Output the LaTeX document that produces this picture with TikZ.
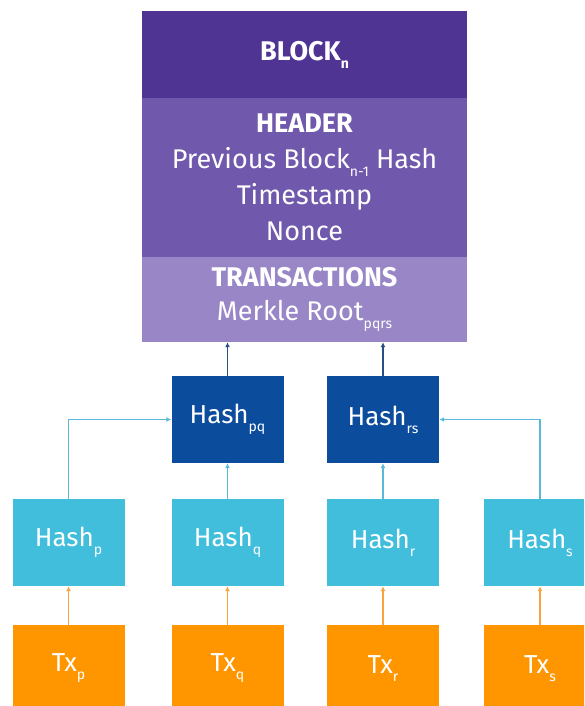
\documentclass[tikz,border=0pt]{standalone}
\usepackage{fontspec}
\setmainfont{Fira Sans}
\usetikzlibrary{arrows.meta}
\definecolor{blockcolor}{RGB}{80,52,148}
\definecolor{headercolor}{RGB}{112,88,172}
\definecolor{transcolor}{RGB}{152,134,198}
\definecolor{hashdark}{RGB}{12,76,156}
\definecolor{hashlight}{RGB}{64,190,220}
\definecolor{txcolor}{RGB}{255,150,0}
\definecolor{flechecyan}{RGB}{90,185,215}
\definecolor{flecheorange}{RGB}{245,165,60}
\definecolor{flechebleu}{RGB}{40,80,130}
\newcommand{\idx}[1]{\raisebox{-8pt}{\fontsize{14}{14}\selectfont #1}}

\begin{document}
\begin{tikzpicture}[x=1pt, y=-1pt]
		% STYLES
		\tikzstyle{boite} = [inner sep=0pt, text=white, align=center, font=\fontsize{26}{36}\selectfont]
		\tikzstyle{bloc} = [boite, minimum width=325pt, font=\fontsize{27}{36}\selectfont]
		\tikzstyle{noeud} = [boite, minimum width=112pt, minimum height=87pt]
		\tikzstyle{fleche} = [line width=1.3pt, -{Latex[length=5pt, width=5pt]}]

		\useasboundingbox (0, 0) rectangle (584, 706);
		\clip (0, 0) rectangle (584, 706);

		% BLOCK
		\node[bloc, fill=blockcolor, minimum height=87pt] (block) at (304.5, 54.5)
			{\textbf{BLOCK\idx{n}}};
		\node[bloc, fill=headercolor, minimum height=159pt] (header) at (304.5, 177.5)
			{\textbf{HEADER}\\Previous Block\idx{n-1} Hash\\Timestamp\\Nonce};
		\node[bloc, fill=transcolor, minimum height=85pt, font=\fontsize{27}{34}\selectfont] (trans) at (304.5, 299.5)
			{\textbf{TRANSACTIONS}\\Merkle Root\idx{pqrs}};

		% HASH PQ / RS
		\node[noeud, fill=hashdark] (hpq) at (227.5, 419.5) {Hash\idx{pq}};
		\node[noeud, fill=hashdark] (hrs) at (383, 419.5) {Hash\idx{rs}};

		% HASH P..S ET TX
		\foreach \n/\x in {p/68.5, q/227.5, r/383, s/540} {
			\node[noeud, fill=hashlight] (h\n) at (\x, 542.5) {Hash\idx{\n}};
			\node[noeud, fill=txcolor] (tx\n) at (\x, 668.5) {Tx\idx{\n}};
			\draw[fleche, draw=flecheorange] (tx\n) -- (h\n);
		}

		% FLECHES
		\draw[fleche, draw=flechecyan] (hq) -- (hpq);
		\draw[fleche, draw=flechecyan] (hr) -- (hrs);
		\draw[fleche, draw=flechecyan] (hp.north) |- (hpq.west);
		\draw[fleche, draw=flechecyan] (hs.north) |- (hrs.east);
		\draw[fleche, draw=flechebleu] (hpq.north) -- (hpq.north |- trans.south);
		\draw[fleche, draw=flechebleu] (hrs.north) -- (hrs.north |- trans.south);
	\end{tikzpicture}
\end{document}
